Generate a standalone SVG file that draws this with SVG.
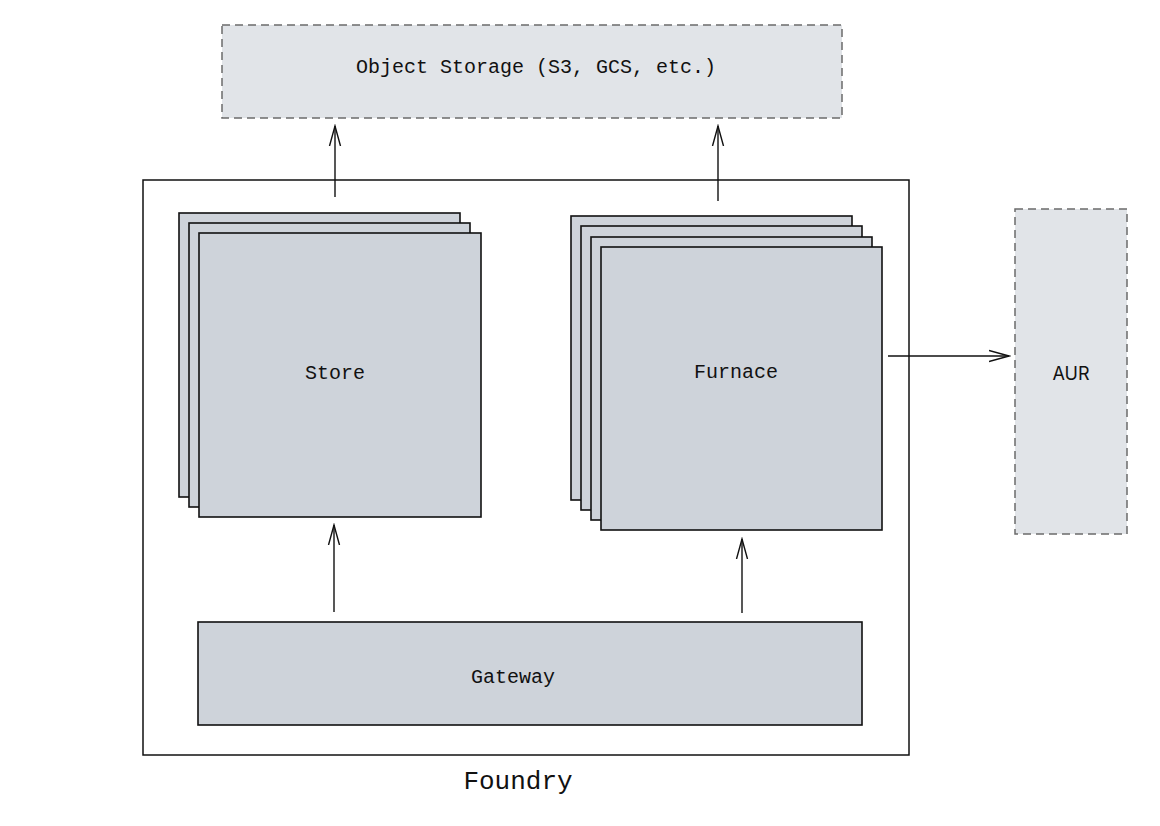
<svg xmlns="http://www.w3.org/2000/svg" width="1160" height="826" viewBox="0 0 1160 826">
<style>
.box{fill:#ced3da;stroke:#111111;stroke-width:1.6}
.ext{fill:#e1e4e8;stroke:#6b6b6b;stroke-width:1.5;stroke-dasharray:8 5}
.lbl{font-family:"Liberation Mono","DejaVu Sans Mono",monospace;font-size:20px;fill:#111111;text-anchor:middle;dominant-baseline:central}
.sans{font-family:Inter,"Liberation Sans",sans-serif;font-size:18px;fill:#111111;text-anchor:middle;dominant-baseline:central}
.conn{stroke:#111111;stroke-width:1.4;fill:none}
</style>
<defs>
<marker id="arr" viewBox="0 0 22 20" refX="20" refY="10" markerWidth="22" markerHeight="20" markerUnits="userSpaceOnUse" orient="auto">
<path d="M0,4.5 L20,10 L0,15.5" fill="none" stroke="#111111" stroke-width="1.4"/>
</marker>
</defs>
<rect width="1160" height="826" fill="#ffffff"/>
<g id="object-storage">
<rect class="ext" x="222" y="25" width="620" height="93"/>
<text class="lbl" x="536" y="67">Object Storage (S3, GCS, etc.)</text>
</g>
<g id="foundry">
<rect x="143" y="180" width="766" height="575" fill="#ffffff" stroke="#111111" stroke-width="1.5"/>
<text class="lbl" x="518" y="782" style="font-size:26px">Foundry</text>
</g>
<g id="store">
<rect class="box" x="179" y="213" width="281" height="284"/>
<rect class="box" x="189" y="223" width="281" height="284"/>
<rect class="box" x="199" y="233" width="282" height="284"/>
<text class="lbl" x="335" y="373">Store</text>
</g>
<g id="furnace">
<rect class="box" x="571" y="216" width="281" height="284"/>
<rect class="box" x="581" y="226" width="281" height="284"/>
<rect class="box" x="591" y="237" width="281" height="283"/>
<rect class="box" x="601" y="247" width="281" height="283"/>
<text class="lbl" x="736" y="372">Furnace</text>
</g>
<g id="gateway">
<rect class="box" x="198" y="622" width="664" height="103"/>
<text class="lbl" x="513" y="677">Gateway</text>
</g>
<g id="aur">
<rect class="ext" x="1015" y="209" width="112" height="325"/>
<text class="sans" x="1071" y="373">AUR</text>
</g>
<g id="connectors">
<line class="conn" x1="335" y1="197" x2="335" y2="126" marker-end="url(#arr)"/>
<line class="conn" x1="718" y1="201" x2="718" y2="126" marker-end="url(#arr)"/>
<line class="conn" x1="334" y1="612" x2="334" y2="525" marker-end="url(#arr)"/>
<line class="conn" x1="742" y1="613" x2="742" y2="539" marker-end="url(#arr)"/>
<line class="conn" x1="888" y1="356" x2="1009" y2="356" marker-end="url(#arr)"/>
</g>
</svg>
